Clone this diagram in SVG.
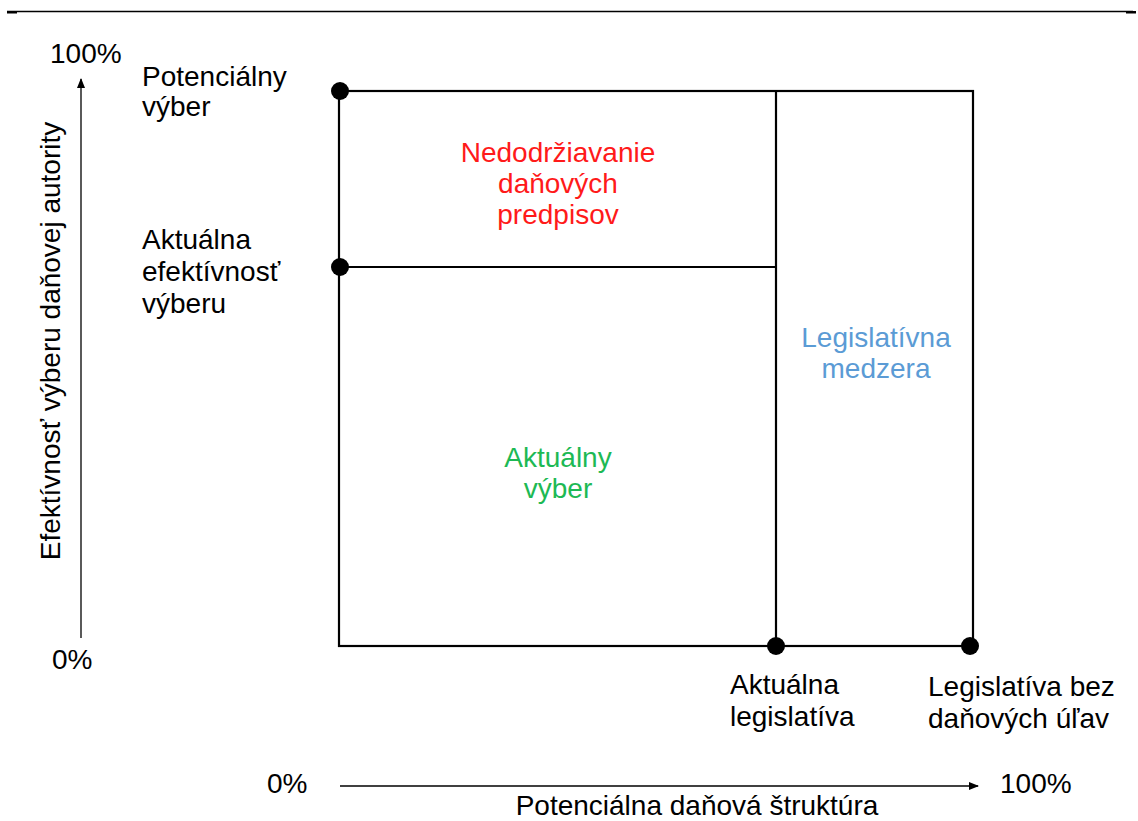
<svg xmlns="http://www.w3.org/2000/svg" width="1138" height="821" viewBox="0 0 1138 821">
<style>
text{font-family:"Liberation Sans",Arial,sans-serif;font-size:28px;fill:#000}
.red{fill:#ff1a1a}
.green{fill:#1db954}
.blue{fill:#5b9bd5}
.c{text-anchor:middle}
.box{fill:none;stroke:#000;stroke-width:2.2}
.axis{stroke:#000;stroke-width:1.3;fill:none}
.dot{fill:#000}
</style>
<defs>
<marker id="ah" viewBox="0 0 10 10" refX="9" refY="5" markerWidth="10" markerHeight="10" markerUnits="userSpaceOnUse" orient="auto">
<path d="M0,1 L10,5 L0,9 Z" fill="#000"/>
</marker>
</defs>
<rect width="1138" height="821" fill="#fff"/>
<g id="header">
<line x1="7" y1="11.5" x2="1133" y2="11.5" stroke="#000" stroke-width="1.5"/>
<rect x="7" y="11" width="10" height="2.5" fill="#000"/>
<rect x="1126" y="11" width="10" height="2.5" fill="#000"/>
</g>
<g id="connectors">
<line class="axis" x1="81" y1="638" x2="81" y2="79" marker-end="url(#ah)"/>
<line class="axis" x1="340" y1="786" x2="978" y2="786" marker-end="url(#ah)"/>
<rect class="box" x="339" y="91" width="634" height="555"/>
<line class="box" x1="776" y1="91" x2="776" y2="646"/>
<line class="box" x1="339" y1="267" x2="776" y2="267"/>
</g>
<g id="dot-potencialny"><circle class="dot" cx="340" cy="91" r="9"/></g>
<g id="dot-aktualna-efektivnost"><circle class="dot" cx="340" cy="267" r="9"/></g>
<g id="dot-aktualna-legislativa"><circle class="dot" cx="776" cy="646" r="9"/></g>
<g id="dot-legislativa-bez"><circle class="dot" cx="970" cy="646" r="9"/></g>
<g id="y-axis-labels">
<text x="50" y="63">100%</text>
<text x="52" y="669">0%</text>
<text class="c" transform="translate(60,341) rotate(-90)">Efektívnosť výberu daňovej autority</text>
</g>
<g id="x-axis-labels">
<text x="267" y="793">0%</text>
<text x="1000" y="793">100%</text>
<text class="c" x="697" y="815">Potenciálna daňová štruktúra</text>
</g>
<g id="potencialny-vyber">
<text x="142" y="86">Potenciálny</text>
<text x="142" y="116">výber</text>
</g>
<g id="aktualna-efektivnost">
<text x="142" y="249">Aktuálna</text>
<text x="142" y="281">efektívnosť</text>
<text x="142" y="313">výberu</text>
</g>
<g id="nedodrziavanie">
<text class="red c" x="558" y="162">Nedodržiavanie</text>
<text class="red c" x="558" y="193">daňových</text>
<text class="red c" x="558" y="224">predpisov</text>
</g>
<g id="aktualny-vyber">
<text class="green c" x="558" y="467">Aktuálny</text>
<text class="green c" x="558" y="498">výber</text>
</g>
<g id="legislativna-medzera">
<text class="blue c" x="876" y="347">Legislatívna</text>
<text class="blue c" x="876" y="378">medzera</text>
</g>
<g id="aktualna-legislativa">
<text x="730" y="694">Aktuálna</text>
<text x="730" y="726">legislatíva</text>
</g>
<g id="legislativa-bez">
<text x="928" y="696">Legislatíva bez</text>
<text x="928" y="728">daňových úľav</text>
</g>
</svg>
